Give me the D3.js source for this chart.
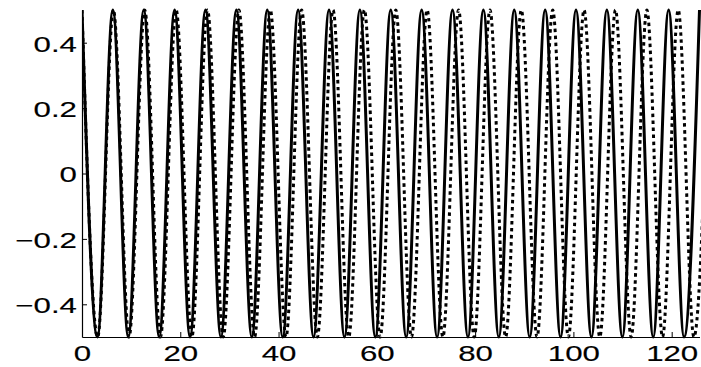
<!DOCTYPE html>
<html>
<head>
<meta charset="utf-8">
<script src="https://cdn.jsdelivr.net/npm/d3@7/dist/d3.min.js"></script>
<style>
  html, body { margin: 0; padding: 0; background: #fff; }
  svg { display: block; }
</style>
</head>
<body>
<svg id="chart" width="701" height="367"></svg>
<script>
// Turning points (x of each peak / trough) of the two oscillations
const solidX = [0, 3.14, 6.28, 9.42, 12.57, 15.71, 18.85, 21.99, 25.13, 28.27, 31.42, 34.56,
  37.70, 40.84, 43.98, 47.12, 50.27, 53.41, 56.55, 59.69, 62.83, 65.97, 69.12, 72.26,
  75.40, 78.54, 81.68, 84.82, 87.96, 91.11, 94.25, 97.39, 100.53, 103.67, 106.81,
  109.96, 113.10, 116.24, 119.38, 122.52, 125.66];
const solidY = [0.5, -0.5, 0.5, -0.5, 0.5, -0.5, 0.5, -0.5, 0.5, -0.5, 0.5, -0.5,
  0.5, -0.5, 0.5, -0.5, 0.5, -0.5, 0.5, -0.5, 0.5, -0.5, 0.5, -0.5,
  0.5, -0.5, 0.5, -0.5, 0.5, -0.5, 0.5, -0.5, 0.5, -0.5, 0.5,
  -0.5, 0.5, -0.5, 0.5, -0.5, 0.5];
const dottedX = [0, 3.19, 6.39, 9.58, 12.77, 15.96, 19.16, 22.35, 25.54, 28.74, 31.93, 35.12,
  38.32, 41.51, 44.70, 47.89, 51.09, 54.28, 57.47, 60.67, 63.86, 67.05, 70.24, 73.44,
  76.63, 79.82, 83.02, 86.21, 89.40, 92.60, 95.79, 98.98, 102.17, 105.37, 108.56,
  111.75, 114.95, 118.14, 121.33, 124.52, 127.72];
const dottedY = [0.5, -0.5, 0.5, -0.5, 0.5, -0.5, 0.5, -0.5, 0.5, -0.5, 0.5, -0.5,
  0.5, -0.5, 0.5, -0.5, 0.5, -0.5, 0.5, -0.5, 0.5, -0.5, 0.5, -0.5,
  0.5, -0.5, 0.5, -0.5, 0.5, -0.5, 0.5, -0.5, 0.5, -0.5, 0.5,
  -0.5, 0.5, -0.5, 0.5, -0.5, 0.5];

const xDomain = [0, 125.66];
const yDomain = [-0.5, 0.5];
const xTicks = [0, 20, 40, 60, 80, 100, 120];
const yTicks = [-0.4, -0.2, 0, 0.2, 0.4];

const svg = d3.select("#chart");
const m = { left: 82, right: 1.5, top: 10, bottom: 30 };
const W = 701, H = 367;
const stretch = 1.42; // wide, horizontally stretched tick lettering

const x = d3.scaleLinear().domain(xDomain).range([m.left, W - m.right]);
const y = d3.scaleLinear().domain(yDomain).range([H - m.bottom, m.top]);

svg.append("defs").append("clipPath").attr("id", "plotClip")
  .append("rect")
  .attr("x", m.left).attr("y", m.top - 3)
  .attr("width", W - m.right - m.left + 1.5).attr("height", H - m.bottom - m.top + 6);

const line = d3.line()
  .x(d => x(d[0])).y(d => y(d[1]))
  .curve(d3.curveMonotoneX);

const plot = svg.append("g").attr("clip-path", "url(#plotClip)");

plot.append("path")
  .datum(dottedX.map((v, i) => [v, dottedY[i]]))
  .attr("d", line)
  .attr("fill", "none").attr("stroke", "#000")
  .attr("stroke-width", 3)
  .attr("stroke-dasharray", "3.5,3.5");

plot.append("path")
  .datum(solidX.map((v, i) => [v, solidY[i]]))
  .attr("d", line)
  .attr("fill", "none").attr("stroke", "#000")
  .attr("stroke-width", 3);

const fmt = v => (v < 0 ? "\u2212" : "") + (v === 0 ? "0" : Math.abs(v).toFixed(1));

const xAxis = svg.append("g")
  .attr("transform", `translate(0,${H - m.bottom})`)
  .call(d3.axisBottom(x).tickValues(xTicks).tickSizeInner(-5).tickSizeOuter(0).tickPadding(8)
    .tickFormat(d3.format("d")));

const yAxis = svg.append("g")
  .attr("transform", `translate(${m.left},0)`)
  .call(d3.axisLeft(y).tickValues(yTicks).tickSizeInner(-5).tickSizeOuter(0).tickPadding(5)
    .tickFormat(fmt));

[xAxis, yAxis].forEach(g => {
  g.attr("font-family", "'Liberation Sans', Arial, sans-serif").attr("font-size", 22);
  g.selectAll(".tick text").attr("fill", "#000")
    .attr("stroke", "#000").attr("stroke-width", 0.15);
  g.select(".domain").attr("stroke", "#000").attr("stroke-width", 1.2);
  g.selectAll(".tick line").attr("stroke", "#000").attr("stroke-width", 1);
});

xAxis.selectAll(".tick text")
  .attr("transform", `scale(${stretch},1)`);

yAxis.selectAll(".tick text")
  .attr("x", 0).attr("dy", "0.38em")
  .attr("transform", `translate(-5,0) scale(${stretch},1)`);
</script>
</body>
</html>
